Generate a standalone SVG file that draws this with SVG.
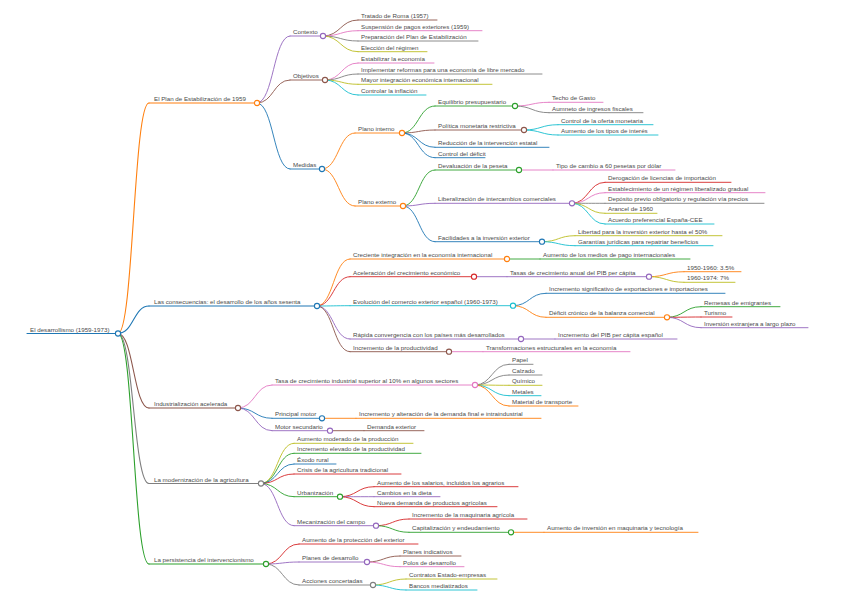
<svg xmlns="http://www.w3.org/2000/svg" width="848" height="599" viewBox="0 0 848 599">
<style>
path{fill:none;stroke-width:0.9;stroke-linecap:round}
circle{fill:#fff;stroke-width:1.1}
text{font-family:"Liberation Sans",Arial,sans-serif;font-size:6.2px;fill:#4a4a4a}
.b{stroke:#1f77b4}.o{stroke:#ff7f0e}.g{stroke:#2ca02c}.r{stroke:#d62728}.p{stroke:#9467bd}
.br{stroke:#8c564b}.pk{stroke:#e377c2}.gy{stroke:#7f7f7f}.ol{stroke:#bcbd22}.cy{stroke:#17becf}
.l1{stroke-width:1.1}
</style>
<rect width="848" height="599" fill="#fff"/>
<g id="connectors">
<path class="o l1" d="M118,333.5 C133.5,333.5 133.5,103 149,103"/>
<path class="b l1" d="M118,333.5 C133.5,333.5 133.5,306 149,306"/>
<path class="br l1" d="M118,333.5 C133.5,333.5 133.5,408 149,408"/>
<path class="gy l1" d="M118,333.5 C133.5,333.5 133.5,483.5 149,483.5"/>
<path class="g l1" d="M118,333.5 C133.5,333.5 133.5,564 149,564"/>
<path class="p" d="M257,103 C273.5,103 273.5,36 290,36"/>
<path class="br" d="M257,103 C273.5,103 273.5,80 290,80"/>
<path class="b" d="M257,103 C273.5,103 273.5,169 290,169"/>
<path class="br" d="M323,36 C340.5,36 340.5,20 358,20"/>
<path class="pk" d="M323,36 C340.5,36 340.5,30.7 358,30.7"/>
<path class="gy" d="M323,36 C340.5,36 340.5,41 358,41"/>
<path class="ol" d="M323,36 C340.5,36 340.5,51.7 358,51.7"/>
<path class="pk" d="M325,80 C341.5,80 341.5,63 358,63"/>
<path class="gy" d="M325,80 C341.5,80 341.5,74 358,74"/>
<path class="ol" d="M325,80 C341.5,80 341.5,84.3 358,84.3"/>
<path class="cy" d="M325,80 C341.5,80 341.5,95 358,95"/>
<path class="o" d="M322,169 C338.5,169 338.5,133 355,133"/>
<path class="o" d="M322,169 C338.5,169 338.5,206 355,206"/>
<path class="g" d="M402,133 C418.5,133 418.5,106 435,106"/>
<path class="br" d="M402,133 C418.5,133 418.5,130 435,130"/>
<path class="b" d="M402,133 C418.5,133 418.5,147.3 435,147.3"/>
<path class="b" d="M402,133 C418.5,133 418.5,157.7 435,157.7"/>
<path class="pk" d="M515,106 C532,106 532,102.3 549,102.3"/>
<path class="gy" d="M515,106 C532,106 532,112.7 549,112.7"/>
<path class="cy" d="M524,130 C541,130 541,124.7 558,124.7"/>
<path class="cy" d="M524,130 C541,130 541,135 558,135"/>
<path class="g" d="M403,206 C419,206 419,170 435,170"/>
<path class="p" d="M403,206 C419,206 419,203.3 435,203.3"/>
<path class="b" d="M403,206 C419,206 419,241.7 435,241.7"/>
<path class="pk" d="M519,170 L553,170"/>
<path class="r" d="M572,203.3 C588.5,203.3 588.5,182.3 605,182.3"/>
<path class="pk" d="M572,203.3 C588.5,203.3 588.5,192.7 605,192.7"/>
<path class="gy" d="M572,203.3 C588.5,203.3 588.5,203.3 605,203.3"/>
<path class="ol" d="M572,203.3 C588.5,203.3 588.5,213.3 605,213.3"/>
<path class="cy" d="M572,203.3 C588.5,203.3 588.5,224 605,224"/>
<path class="ol" d="M542,241.7 C558.5,241.7 558.5,235.7 575,235.7"/>
<path class="cy" d="M542,241.7 C558.5,241.7 558.5,245.7 575,245.7"/>
<path class="o" d="M317,306 C333.5,306 333.5,259 350,259"/>
<path class="r" d="M317,306 C333.5,306 333.5,276.7 350,276.7"/>
<path class="cy" d="M317,306 C333.5,306 333.5,305.7 350,305.7"/>
<path class="p" d="M317,306 C333.5,306 333.5,339 350,339"/>
<path class="br" d="M317,306 C333.5,306 333.5,351.7 350,351.7"/>
<path class="g" d="M507,259 L540,259"/>
<path class="p" d="M474,276.7 L507,276.7"/>
<path class="o" d="M649,276.7 C666.5,276.7 666.5,271.7 684,271.7"/>
<path class="ol" d="M649,276.7 C666.5,276.7 666.5,282.3 684,282.3"/>
<path class="b" d="M513,305.7 C529.5,305.7 529.5,293.3 546,293.3"/>
<path class="o" d="M513,305.7 C529.5,305.7 529.5,317.3 546,317.3"/>
<path class="g" d="M667,317.3 C684,317.3 684,306.7 701,306.7"/>
<path class="r" d="M667,317.3 C684,317.3 684,317 701,317"/>
<path class="p" d="M667,317.3 C684,317.3 684,327.7 701,327.7"/>
<path class="p" d="M521,339 L555,339"/>
<path class="pk" d="M449,351.7 L483,351.7"/>
<path class="pk" d="M238,408 C255,408 255,385 272,385"/>
<path class="b" d="M238,408 C255,408 255,418.3 272,418.3"/>
<path class="p" d="M238,408 C255,408 255,430.7 272,430.7"/>
<path class="gy" d="M475,385 C492,385 492,364.3 509,364.3"/>
<path class="gy" d="M475,385 C492,385 492,375 509,375"/>
<path class="ol" d="M475,385 C492,385 492,385.3 509,385.3"/>
<path class="cy" d="M475,385 C492,385 492,395.7 509,395.7"/>
<path class="o" d="M475,385 C492,385 492,406 509,406"/>
<path class="o" d="M322,418.3 L356,418.3"/>
<path class="br" d="M330,430.7 L364,430.7"/>
<path class="ol" d="M261,483.5 C277.5,483.5 277.5,443.3 294,443.3"/>
<path class="g" d="M261,483.5 C277.5,483.5 277.5,453.3 294,453.3"/>
<path class="b" d="M261,483.5 C277.5,483.5 277.5,464 294,464"/>
<path class="r" d="M261,483.5 C277.5,483.5 277.5,474 294,474"/>
<path class="g" d="M261,483.5 C277.5,483.5 277.5,496.7 294,496.7"/>
<path class="p" d="M261,483.5 C277.5,483.5 277.5,525.7 294,525.7"/>
<path class="r" d="M340,496.7 C357,496.7 357,486.7 374,486.7"/>
<path class="p" d="M340,496.7 C357,496.7 357,496.7 374,496.7"/>
<path class="r" d="M340,496.7 C357,496.7 357,506.7 374,506.7"/>
<path class="r" d="M376,525.7 C392.5,525.7 392.5,519 409,519"/>
<path class="g" d="M376,525.7 C392.5,525.7 392.5,532.3 409,532.3"/>
<path class="o" d="M511,532.3 L544,532.3"/>
<path class="r" d="M266,564 C282.5,564 282.5,544 299,544"/>
<path class="p" d="M266,564 C282.5,564 282.5,562 299,562"/>
<path class="gy" d="M266,564 C282.5,564 282.5,585 299,585"/>
<path class="br" d="M367,562 C383.5,562 383.5,556 400,556"/>
<path class="pk" d="M367,562 C383.5,562 383.5,566.7 400,566.7"/>
<path class="ol" d="M373,585 C389.5,585 389.5,579 406,579"/>
<path class="cy" d="M373,585 C389.5,585 389.5,590 406,590"/>
</g>
<g id="root"><path class="b l1" d="M27,333.5 H118"/><text x="30" y="331.5">El desarrollismo (1959-1973)</text><circle class="b" cx="118" cy="333.5" r="2.6"/></g>
<g id="plan"><path class="o l1" d="M149,103 H257"/><text x="154" y="101">El Plan de Estabilización de 1959</text><circle class="o" cx="257" cy="103" r="2.6"/></g>
<g id="contexto"><path class="p" d="M290,36 H323"/><text x="293" y="34">Contexto</text><circle class="p" cx="323" cy="36" r="2.6"/></g>
<g id="tratado"><path class="br" d="M358,20 H437"/><text x="361" y="18">Tratado de Roma (1957)</text></g>
<g id="suspension"><path class="pk" d="M358,30.7 H482"/><text x="361" y="28.7">Suspensión de pagos exteriores (1959)</text></g>
<g id="preparacion"><path class="gy" d="M358,41 H478"/><text x="361" y="39">Preparación del Plan de Estabilización</text></g>
<g id="eleccion"><path class="ol" d="M358,51.7 H427"/><text x="361" y="49.7">Elección del régimen</text></g>
<g id="objetivos"><path class="br" d="M290,80 H325"/><text x="293" y="78">Objetivos</text><circle class="br" cx="325" cy="80" r="2.6"/></g>
<g id="estabilizar"><path class="pk" d="M358,63 H434"/><text x="361" y="61">Estabilizar la economía</text></g>
<g id="implementar"><path class="gy" d="M358,74 H542"/><text x="361" y="72">Implementar reformas para una economía de libre mercado</text></g>
<g id="mayor"><path class="ol" d="M358,84.3 H492"/><text x="361" y="82.3">Mayor integración económica internacional</text></g>
<g id="controlar"><path class="cy" d="M358,95 H426"/><text x="361" y="93">Controlar la inflación</text></g>
<g id="medidas"><path class="b" d="M290,169 H322"/><text x="293" y="167">Medidas</text><circle class="b" cx="322" cy="169" r="2.6"/></g>
<g id="interno"><path class="o" d="M355,133 H402"/><text x="358" y="131">Plano interno</text><circle class="o" cx="402" cy="133" r="2.6"/></g>
<g id="equilibrio"><path class="g" d="M435,106 H515"/><text x="438" y="104">Equilibrio presupuestario</text><circle class="g" cx="515" cy="106" r="2.6"/></g>
<g id="techo"><path class="pk" d="M549,102.3 H603"/><text x="552" y="100.3">Techo de Gasto</text></g>
<g id="aumneto"><path class="gy" d="M549,112.7 H643"/><text x="552" y="110.7">Aumneto de ingresos fiscales</text></g>
<g id="politica"><path class="br" d="M435,130 H524"/><text x="438" y="128">Política monetaria restrictiva</text><circle class="br" cx="524" cy="130" r="2.6"/></g>
<g id="oferta"><path class="cy" d="M558,124.7 H653"/><text x="561" y="122.7">Control de la oferta monetaria</text></g>
<g id="tipos"><path class="cy" d="M558,135 H658"/><text x="561" y="133">Aumento de los tipos de interés</text></g>
<g id="reduccion"><path class="b" d="M435,147.3 H549"/><text x="438" y="145.3">Reducción de la intervención estatal</text></g>
<g id="deficit"><path class="b" d="M435,157.7 H485"/><text x="438" y="155.7">Control del déficit</text></g>
<g id="externo"><path class="o" d="M355,206 H403"/><text x="358" y="204">Plano externo</text><circle class="o" cx="403" cy="206" r="2.6"/></g>
<g id="devaluacion"><path class="g" d="M435,170 H519"/><text x="438" y="168">Devaluación de la peseta</text><circle class="g" cx="519" cy="170" r="2.6"/></g>
<g id="cambio"><path class="pk" d="M553,170 H675"/><text x="556" y="168">Tipo de cambio a 60 pesetas por dólar</text></g>
<g id="liberalizacion"><path class="p" d="M435,203.3 H572"/><text x="438" y="201.3">Liberalización de intercambios comerciales</text><circle class="p" cx="572" cy="203.3" r="2.6"/></g>
<g id="derogacion"><path class="r" d="M605,182.3 H731"/><text x="608" y="180.3">Derogación de licencias de importación</text></g>
<g id="establecimiento"><path class="pk" d="M605,192.7 H765"/><text x="608" y="190.7">Establecimiento de un régimen liberalizado gradual</text></g>
<g id="deposito"><path class="gy" d="M605,203.3 H764"/><text x="608" y="201.3">Depósito previo obligatorio y regulación vía precios</text></g>
<g id="arancel"><path class="ol" d="M605,213.3 H657"/><text x="608" y="211.3">Arancel de 1960</text></g>
<g id="acuerdo"><path class="cy" d="M605,224 H714"/><text x="608" y="222">Acuerdo preferencial España-CEE</text></g>
<g id="facilidades"><path class="b" d="M435,241.7 H542"/><text x="438" y="239.7">Facilidades a la inversión exterior</text><circle class="b" cx="542" cy="241.7" r="2.6"/></g>
<g id="libertad"><path class="ol" d="M575,235.7 H722"/><text x="578" y="233.7">Libertad para la inversión exterior hasta el 50%</text></g>
<g id="garantias"><path class="cy" d="M575,245.7 H713"/><text x="578" y="243.7">Garantías jurídicas para repatriar beneficios</text></g>
<g id="consecuencias"><path class="b l1" d="M149,306 H317"/><text x="154" y="304">Las consecuencias: el desarrollo de los años sesenta</text><circle class="b" cx="317" cy="306" r="2.6"/></g>
<g id="creciente"><path class="o" d="M350,259 H507"/><text x="353" y="257">Creciente integración en la economía internacional</text><circle class="o" cx="507" cy="259" r="2.6"/></g>
<g id="medios"><path class="g" d="M540,259 H690"/><text x="543" y="257">Aumento de los medios de pago internacionales</text></g>
<g id="aceleracion"><path class="r" d="M350,276.7 H474"/><text x="353" y="274.7">Aceleración del crecimiento económico</text><circle class="r" cx="474" cy="276.7" r="2.6"/></g>
<g id="tasas"><path class="p" d="M507,276.7 H649"/><text x="510" y="274.7">Tasas de crecimiento anual del PIB per cápita</text><circle class="p" cx="649" cy="276.7" r="2.6"/></g>
<g id="t1950"><path class="o" d="M684,271.7 H741"/><text x="687" y="269.7">1950-1960: 3.5%</text></g>
<g id="t1960"><path class="ol" d="M684,282.3 H735"/><text x="687" y="280.3">1960-1974: 7%</text></g>
<g id="evolucion"><path class="cy" d="M350,305.7 H513"/><text x="353" y="303.7">Evolución del comercio exterior español (1960-1973)</text><circle class="cy" cx="513" cy="305.7" r="2.6"/></g>
<g id="incremento-sig"><path class="b" d="M546,293.3 H725"/><text x="549" y="291.3">Incremento significativo de exportaciones e importaciones</text></g>
<g id="deficit-cronico"><path class="o" d="M546,317.3 H667"/><text x="549" y="315.3">Déficit crónico de la balanza comercial</text><circle class="o" cx="667" cy="317.3" r="2.6"/></g>
<g id="remesas"><path class="g" d="M701,306.7 H780"/><text x="704" y="304.7">Remesas de emigrantes</text></g>
<g id="turismo"><path class="r" d="M701,317 H732"/><text x="704" y="315">Turismo</text></g>
<g id="inversion-ext"><path class="p" d="M701,327.7 H808"/><text x="704" y="325.7">Inversión extranjera a largo plazo</text></g>
<g id="rapida"><path class="p" d="M350,339 H521"/><text x="353" y="337">Rápida convergencia con los países más desarrollados</text><circle class="p" cx="521" cy="339" r="2.6"/></g>
<g id="pib"><path class="p" d="M555,339 H677"/><text x="558" y="337">Incremento del PIB per cápita español</text></g>
<g id="productividad"><path class="br" d="M350,351.7 H449"/><text x="353" y="349.7">Incremento de la productividad</text><circle class="br" cx="449" cy="351.7" r="2.6"/></g>
<g id="transformaciones"><path class="pk" d="M483,351.7 H630"/><text x="486" y="349.7">Transformaciones estructurales en la economía</text></g>
<g id="industrializacion"><path class="br l1" d="M149,408 H238"/><text x="154" y="406">Industrialización acelerada</text><circle class="br" cx="238" cy="408" r="2.6"/></g>
<g id="tasa-ind"><path class="pk" d="M272,385 H475"/><text x="275" y="383">Tasa de crecimiento industrial superior al 10% en algunos sectores</text><circle class="pk" cx="475" cy="385" r="2.6"/></g>
<g id="papel"><path class="gy" d="M509,364.3 H533"/><text x="512" y="362.3">Papel</text></g>
<g id="calzado"><path class="gy" d="M509,375 H542"/><text x="512" y="373">Calzado</text></g>
<g id="quimico"><path class="ol" d="M509,385.3 H542"/><text x="512" y="383.3">Químico</text></g>
<g id="metales"><path class="cy" d="M509,395.7 H541"/><text x="512" y="393.7">Metales</text></g>
<g id="material"><path class="o" d="M509,406 H578"/><text x="512" y="404">Material de transporte</text></g>
<g id="principal"><path class="b" d="M272,418.3 H322"/><text x="275" y="416.3">Principal motor</text><circle class="b" cx="322" cy="418.3" r="2.6"/></g>
<g id="demanda-final"><path class="o" d="M356,418.3 H541"/><text x="359" y="416.3">Incremento y alteración de la demanda final e intraindustrial</text></g>
<g id="secundario"><path class="p" d="M272,430.7 H330"/><text x="275" y="428.7">Motor secundario</text><circle class="p" cx="330" cy="430.7" r="2.6"/></g>
<g id="demanda-ext"><path class="br" d="M364,430.7 H424"/><text x="367" y="428.7">Demanda exterior</text></g>
<g id="agricultura"><path class="gy l1" d="M149,483.5 H261"/><text x="154" y="481.5">La modernización de la agricultura</text><circle class="gy" cx="261" cy="483.5" r="2.6"/></g>
<g id="moderado"><path class="ol" d="M294,443.3 H413"/><text x="297" y="441.3">Aumento moderado de la producción</text></g>
<g id="elevado"><path class="g" d="M294,453.3 H421"/><text x="297" y="451.3">Incremento elevado de la productividad</text></g>
<g id="exodo"><path class="b" d="M294,464 H336"/><text x="297" y="462">Éxodo rural</text></g>
<g id="crisis"><path class="r" d="M294,474 H401"/><text x="297" y="472">Crisis de la agricultura tradicional</text></g>
<g id="urbanizacion"><path class="g" d="M294,496.7 H340"/><text x="297" y="494.7">Urbanización</text><circle class="g" cx="340" cy="496.7" r="2.6"/></g>
<g id="salarios"><path class="r" d="M374,486.7 H518"/><text x="377" y="484.7">Aumento de los salarios, incluidos los agrarios</text></g>
<g id="dieta"><path class="p" d="M374,496.7 H440"/><text x="377" y="494.7">Cambios en la dieta</text></g>
<g id="nueva"><path class="r" d="M374,506.7 H497"/><text x="377" y="504.7">Nueva demanda de productos agrícolas</text></g>
<g id="mecanizacion"><path class="p" d="M294,525.7 H376"/><text x="297" y="523.7">Mecanización del campo</text><circle class="p" cx="376" cy="525.7" r="2.6"/></g>
<g id="maquinaria"><path class="r" d="M409,519 H527"/><text x="412" y="517">Incremento de la maquinaria agrícola</text></g>
<g id="capitalizacion"><path class="g" d="M409,532.3 H511"/><text x="412" y="530.3">Capitalización y endeudamiento</text><circle class="g" cx="511" cy="532.3" r="2.6"/></g>
<g id="inversion-maq"><path class="o" d="M544,532.3 H698"/><text x="547" y="530.3">Aumento de inversión en maquinaria y tecnología</text></g>
<g id="intervencionismo"><path class="g l1" d="M149,564 H266"/><text x="154" y="562">La persistencia del intervencionismo</text><circle class="g" cx="266" cy="564" r="2.6"/></g>
<g id="proteccion"><path class="r" d="M299,544 H418"/><text x="302" y="542">Aumento de la protección del exterior</text></g>
<g id="planes"><path class="p" d="M299,562 H367"/><text x="302" y="560">Planes de desarrollo</text><circle class="p" cx="367" cy="562" r="2.6"/></g>
<g id="indicativos"><path class="br" d="M400,556 H461"/><text x="403" y="554">Planes indicativos</text></g>
<g id="polos"><path class="pk" d="M400,566.7 H464"/><text x="403" y="564.7">Polos de desarrollo</text></g>
<g id="acciones"><path class="gy" d="M299,585 H373"/><text x="302" y="583">Acciones concertadas</text><circle class="gy" cx="373" cy="585" r="2.6"/></g>
<g id="contratos"><path class="ol" d="M406,579 H497"/><text x="409" y="577">Contratos Estado-empresas</text></g>
<g id="bancos"><path class="cy" d="M406,590 H477"/><text x="409" y="588">Bancos mediatizados</text></g>
</svg>
